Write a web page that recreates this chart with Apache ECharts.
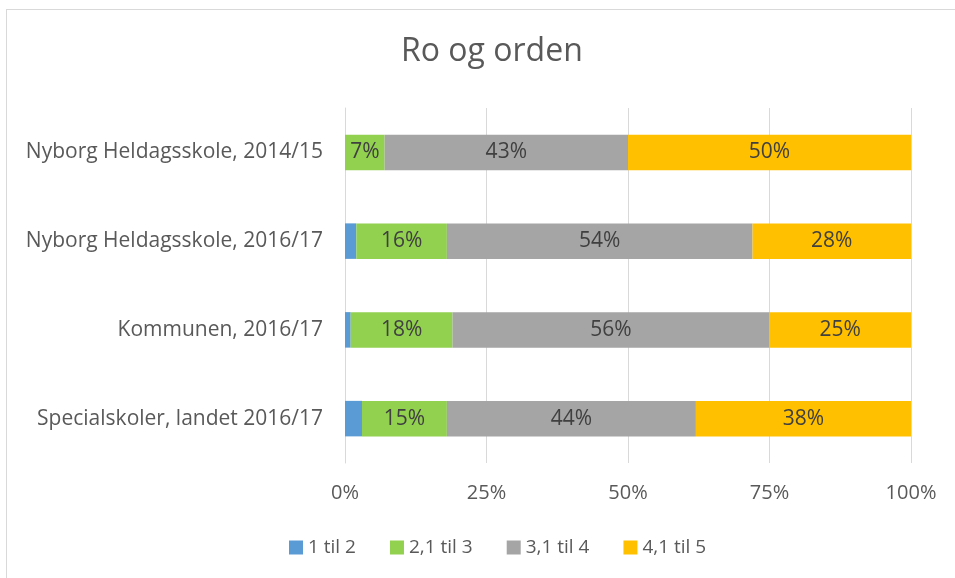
<!DOCTYPE html>
<html>
<head>
<meta charset="utf-8">
<script src="https://cdn.jsdelivr.net/npm/echarts@6/dist/echarts.min.js"></script>
<style>
  html, body { margin: 0; padding: 0; background: #fff; overflow: hidden; }
  #frame { position: absolute; left: 6px; top: 9px; width: 1000px; height: 600px; border: 1px solid #d9d9d9; box-sizing: border-box; }
  #myChart { position: absolute; left: 0; top: 0; width: 955px; height: 578px; }
</style>
</head>
<body>
<div id="frame"></div>
<div id="myChart"></div>
<script>
// kategorier (ovenfra og ned)
var categories = ['Nyborg Heldagsskole, 2014/15', 'Nyborg Heldagsskole, 2016/17', 'Kommunen, 2016/17', 'Specialskoler, landet 2016/17'];
var seriesNames = ['1 til 2', '2,1 til 3', '3,1 til 4', '4,1 til 5'];
var s1 = [0, 2, 1, 3];
var s2 = [7, 16, 18, 15];
var s3 = [43, 54, 56, 44];
var s4 = [50, 28, 25, 38];
var xTicks = [0, 25, 50, 75, 100];
var colors = ['#5b9bd5', '#92d050', '#a5a5a5', '#ffc000'];

var font = '"Open Sans", Lato, sans-serif';

function makeSeries(name, data, showLabel) {
    return {
        name: name,
        type: 'bar',
        stack: 'total',
        barWidth: '40%',
        data: data,
        label: {
            show: showLabel,
            position: 'inside',
            color: '#404040',
            fontSize: 21,
            fontFamily: font,
            formatter: function (p) { return p.value + '%'; }
        }
    };
}

var myChart = echarts.init(document.getElementById('myChart'));
var option = {
    backgroundColor: 'transparent',
    color: colors,
    animation: false,
    title: {
        text: 'Ro og orden',
        left: 396,
        top: 31,
        textStyle: { color: '#595959', fontSize: 32, fontWeight: 'normal', fontFamily: font }
    },
    legend: {
        bottom: 16,
        left: 284,
        itemWidth: 14,
        itemHeight: 14,
        itemGap: 34,
        icon: 'rect',
        textStyle: { color: '#595959', fontSize: 19, fontFamily: font },
        data: seriesNames
    },
    grid: { left: 345, right: 44, top: 108, bottom: 115, containLabel: false },
    xAxis: {
        type: 'value',
        min: 0,
        max: 100,
        interval: 25,
        axisLabel: {
            color: '#595959', fontSize: 20, fontFamily: font, margin: 20,
            formatter: function (v) { return xTicks.indexOf(v) >= 0 ? v + '%' : ''; }
        },
        axisLine: { show: false },
        axisTick: { show: false },
        splitLine: { lineStyle: { color: '#d9d9d9', width: 1 } }
    },
    yAxis: {
        type: 'category',
        inverse: true,
        data: categories,
        axisLabel: { color: '#595959', fontSize: 21, fontFamily: font, margin: 22 },
        axisLine: { lineStyle: { color: '#d9d9d9', width: 1 } },
        axisTick: { show: false }
    },
    series: [
        makeSeries(seriesNames[0], s1, false),
        makeSeries(seriesNames[1], s2, true),
        makeSeries(seriesNames[2], s3, true),
        makeSeries(seriesNames[3], s4, true)
    ]
};
myChart.setOption(option);
</script>
</body>
</html>
